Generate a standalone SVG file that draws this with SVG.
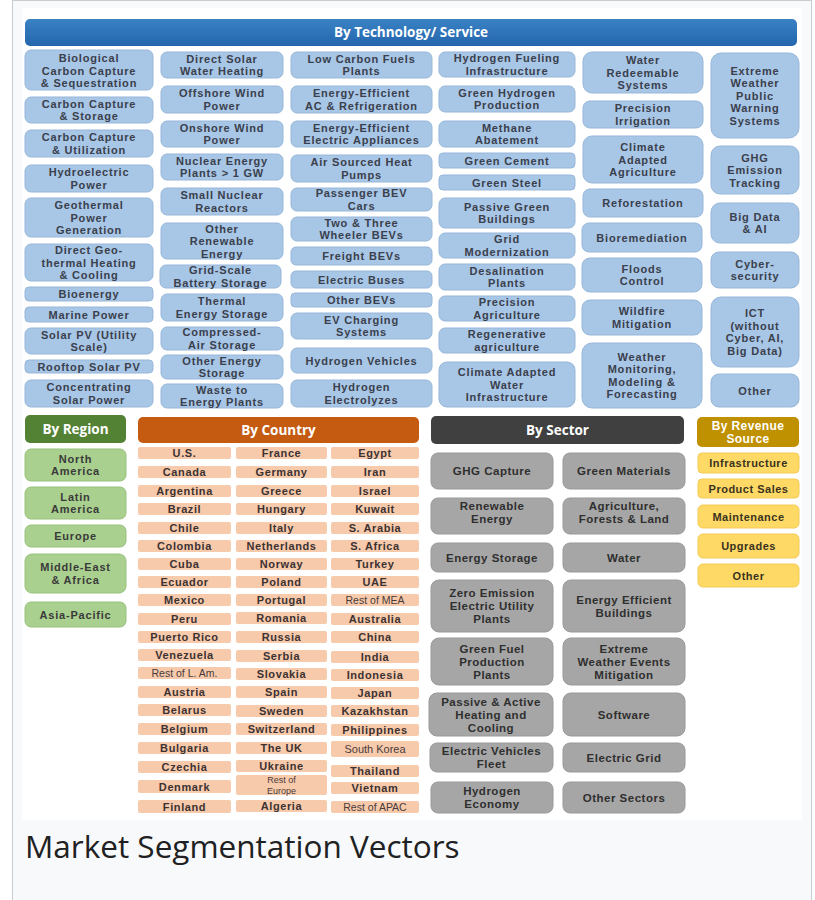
<svg xmlns="http://www.w3.org/2000/svg" width="815" height="900" viewBox="0 0 815 900">
<defs>
<linearGradient id="gBlue" x1="0" y1="0" x2="0" y2="1"><stop offset="0" stop-color="#3a82c4"/><stop offset="1" stop-color="#2465ad"/></linearGradient>
</defs>
<style>
text{font-family:"Liberation Sans",Arial,sans-serif;text-anchor:middle}
.tb{fill:#a8c6e6;stroke:#97b7da;stroke-width:1}
.tx{font-weight:700;font-size:11px;letter-spacing:0.8px;fill:#3a404c}
.hd{font-family:"Open Sans","DejaVu Sans",sans-serif;font-weight:700;font-size:13.5px;fill:#ffffff}
.rb{fill:#a9d08e;stroke:#98c27c;stroke-width:1}
.rx{font-weight:700;font-size:11px;letter-spacing:0.8px;fill:#3a3a3a}
.cb{fill:#f7caab}
.cx{font-weight:700;font-size:11px;letter-spacing:0.6px;fill:#3d3232}
.cl{font-weight:400;font-size:10.5px;fill:#4a3b3b}
.sb{fill:#a6a6a6;stroke:#999;stroke-width:1}
.sx{font-weight:700;font-size:11.5px;letter-spacing:0.5px;fill:#2f2f2f}
.vb{fill:#ffd966;stroke:#f2cb55;stroke-width:1}
.vx{font-weight:700;font-size:11px;letter-spacing:0.5px;fill:#3a3320}
</style>
<rect x="12.5" y="0.5" width="799" height="905" fill="#f8f9fa" stroke="#c8ccd1"/>
<rect x="22" y="8" width="780" height="812" fill="#ffffff"/>

<g id="hdr-tech"><rect x="25" y="19" width="772" height="27" rx="5" fill="url(#gBlue)"/><text class="hd" x="411" y="37">By Technology/ Service</text></g>

<!-- Column 1 -->
<g id="t-bio"><rect class="tb" x="25" y="50" width="128" height="40" rx="6"/><text class="tx"><tspan x="89" y="62">Biological</tspan><tspan x="89" y="74.5">Carbon Capture</tspan><tspan x="89" y="87">&amp; Sequestration</tspan></text></g>
<g id="t-ccs"><rect class="tb" x="25" y="97" width="128" height="26" rx="6"/><text class="tx"><tspan x="89" y="107.5">Carbon Capture</tspan><tspan x="89" y="120">&amp; Storage</tspan></text></g>
<g id="t-ccu"><rect class="tb" x="25" y="130" width="128" height="27" rx="6"/><text class="tx"><tspan x="89" y="141">Carbon Capture</tspan><tspan x="89" y="153.5">&amp; Utilization</tspan></text></g>
<g id="t-hydro"><rect class="tb" x="25" y="165" width="128" height="27" rx="6"/><text class="tx"><tspan x="89" y="176">Hydroelectric</tspan><tspan x="89" y="188.5">Power</tspan></text></g>
<g id="t-geo"><rect class="tb" x="25" y="198" width="128" height="39" rx="6"/><text class="tx"><tspan x="89" y="209">Geothermal</tspan><tspan x="89" y="221.5">Power</tspan><tspan x="89" y="234">Generation</tspan></text></g>
<g id="t-dgeo"><rect class="tb" x="25" y="244" width="128" height="37" rx="6"/><text class="tx"><tspan x="89" y="254">Direct Geo-</tspan><tspan x="89" y="266.5">thermal Heating</tspan><tspan x="89" y="279">&amp; Cooling</tspan></text></g>
<g id="t-bioen"><rect class="tb" x="25" y="287" width="128" height="14" rx="4"/><text class="tx" x="89" y="298">Bioenergy</text></g>
<g id="t-marine"><rect class="tb" x="25" y="307" width="128" height="15" rx="4"/><text class="tx" x="89" y="318.5">Marine Power</text></g>
<g id="t-pvu"><rect class="tb" x="25" y="328" width="128" height="26" rx="6"/><text class="tx"><tspan x="89" y="338.5">Solar PV (Utility</tspan><tspan x="89" y="351">Scale)</tspan></text></g>
<g id="t-roof"><rect class="tb" x="25" y="360" width="128" height="13" rx="4"/><text class="tx" x="89" y="370.5">Rooftop Solar PV</text></g>
<g id="t-csp"><rect class="tb" x="25" y="380" width="128" height="27" rx="6"/><text class="tx"><tspan x="89" y="391">Concentrating</tspan><tspan x="89" y="403.5">Solar Power</tspan></text></g>

<!-- Column 2 -->
<g id="t-dswh"><rect class="tb" x="161" y="52" width="122" height="26" rx="6"/><text class="tx"><tspan x="222" y="62.5">Direct Solar</tspan><tspan x="222" y="75">Water Heating</tspan></text></g>
<g id="t-offw"><rect class="tb" x="161" y="86" width="122" height="27" rx="6"/><text class="tx"><tspan x="222" y="97">Offshore Wind</tspan><tspan x="222" y="109.5">Power</tspan></text></g>
<g id="t-onw"><rect class="tb" x="161" y="121" width="122" height="26" rx="6"/><text class="tx"><tspan x="222" y="131.5">Onshore Wind</tspan><tspan x="222" y="144">Power</tspan></text></g>
<g id="t-nuc"><rect class="tb" x="161" y="154" width="122" height="26" rx="6"/><text class="tx"><tspan x="222" y="164.5">Nuclear Energy</tspan><tspan x="222" y="177">Plants &gt; 1 GW</tspan></text></g>
<g id="t-smr"><rect class="tb" x="161" y="188" width="122" height="27" rx="6"/><text class="tx"><tspan x="222" y="199">Small Nuclear</tspan><tspan x="222" y="211.5">Reactors</tspan></text></g>
<g id="t-oren"><rect class="tb" x="161" y="223" width="122" height="36" rx="6"/><text class="tx"><tspan x="222" y="232.5">Other</tspan><tspan x="222" y="245">Renewable</tspan><tspan x="222" y="257.5">Energy</tspan></text></g>
<g id="t-grid"><rect class="tb" x="160" y="265" width="121" height="23" rx="6"/><text class="tx"><tspan x="220.5" y="274">Grid-Scale</tspan><tspan x="220.5" y="286.5">Battery Storage</tspan></text></g>
<g id="t-therm"><rect class="tb" x="161" y="294" width="122" height="27" rx="6"/><text class="tx"><tspan x="222" y="305">Thermal</tspan><tspan x="222" y="317.5">Energy Storage</tspan></text></g>
<g id="t-caes"><rect class="tb" x="161" y="327" width="122" height="23" rx="6"/><text class="tx"><tspan x="222" y="336">Compressed-</tspan><tspan x="222" y="348.5">Air Storage</tspan></text></g>
<g id="t-oes"><rect class="tb" x="161" y="355" width="122" height="24" rx="6"/><text class="tx"><tspan x="222" y="364.5">Other Energy</tspan><tspan x="222" y="377">Storage</tspan></text></g>
<g id="t-wte"><rect class="tb" x="161" y="384" width="122" height="24" rx="6"/><text class="tx"><tspan x="222" y="393.5">Waste to</tspan><tspan x="222" y="406">Energy Plants</tspan></text></g>

<!-- Column 3 -->
<g id="t-lcf"><rect class="tb" x="291" y="52" width="141" height="26" rx="6"/><text class="tx"><tspan x="361.5" y="62.5">Low Carbon Fuels</tspan><tspan x="361.5" y="75">Plants</tspan></text></g>
<g id="t-eeac"><rect class="tb" x="291" y="86" width="141" height="27" rx="6"/><text class="tx"><tspan x="361.5" y="97">Energy-Efficient</tspan><tspan x="361.5" y="109.5">AC &amp; Refrigeration</tspan></text></g>
<g id="t-eeap"><rect class="tb" x="291" y="121" width="141" height="26" rx="6"/><text class="tx"><tspan x="361.5" y="131.5">Energy-Efficient</tspan><tspan x="361.5" y="144">Electric Appliances</tspan></text></g>
<g id="t-ashp"><rect class="tb" x="291" y="155" width="141" height="27" rx="6"/><text class="tx"><tspan x="361.5" y="166">Air Sourced Heat</tspan><tspan x="361.5" y="178.5">Pumps</tspan></text></g>
<g id="t-pbev"><rect class="tb" x="291" y="188" width="141" height="23" rx="6"/><text class="tx"><tspan x="361.5" y="197">Passenger BEV</tspan><tspan x="361.5" y="209.5">Cars</tspan></text></g>
<g id="t-23w"><rect class="tb" x="291" y="217" width="141" height="24" rx="6"/><text class="tx"><tspan x="361.5" y="226.5">Two &amp; Three</tspan><tspan x="361.5" y="239">Wheeler BEVs</tspan></text></g>
<g id="t-frbev"><rect class="tb" x="291" y="247" width="141" height="18" rx="5"/><text class="tx" x="361.5" y="260">Freight BEVs</text></g>
<g id="t-ebus"><rect class="tb" x="291" y="271" width="141" height="17" rx="5"/><text class="tx" x="361.5" y="283.5">Electric Buses</text></g>
<g id="t-obev"><rect class="tb" x="291" y="293" width="141" height="14" rx="4"/><text class="tx" x="361.5" y="304">Other BEVs</text></g>
<g id="t-evcs"><rect class="tb" x="291" y="313" width="141" height="26" rx="6"/><text class="tx"><tspan x="361.5" y="323.5">EV Charging</tspan><tspan x="361.5" y="336">Systems</tspan></text></g>
<g id="t-h2v"><rect class="tb" x="291" y="348" width="141" height="25" rx="6"/><text class="tx" x="361.5" y="364.5">Hydrogen Vehicles</text></g>
<g id="t-h2e"><rect class="tb" x="291" y="380" width="141" height="27" rx="6"/><text class="tx"><tspan x="361.5" y="391">Hydrogen</tspan><tspan x="361.5" y="403.5">Electrolyzes</tspan></text></g>

<!-- Column 4 -->
<g id="t-h2f"><rect class="tb" x="439" y="52" width="136" height="25" rx="6"/><text class="tx"><tspan x="507" y="62">Hydrogen Fueling</tspan><tspan x="507" y="74.5">Infrastructure</tspan></text></g>
<g id="t-gh2"><rect class="tb" x="439" y="86" width="136" height="26" rx="6"/><text class="tx"><tspan x="507" y="96.5">Green Hydrogen</tspan><tspan x="507" y="109">Production</tspan></text></g>
<g id="t-meth"><rect class="tb" x="439" y="121" width="136" height="26" rx="6"/><text class="tx"><tspan x="507" y="131.5">Methane</tspan><tspan x="507" y="144">Abatement</tspan></text></g>
<g id="t-gcem"><rect class="tb" x="439" y="153" width="136" height="15" rx="4"/><text class="tx" x="507" y="164.5">Green Cement</text></g>
<g id="t-gstl"><rect class="tb" x="439" y="175" width="136" height="15" rx="4"/><text class="tx" x="507" y="186.5">Green Steel</text></g>
<g id="t-pgb"><rect class="tb" x="439" y="198" width="136" height="30" rx="6"/><text class="tx"><tspan x="507" y="210.5">Passive Green</tspan><tspan x="507" y="223">Buildings</tspan></text></g>
<g id="t-gmod"><rect class="tb" x="439" y="233" width="136" height="25" rx="6"/><text class="tx"><tspan x="507" y="243">Grid</tspan><tspan x="507" y="255.5">Modernization</tspan></text></g>
<g id="t-desal"><rect class="tb" x="439" y="264" width="136" height="26" rx="6"/><text class="tx"><tspan x="507" y="274.5">Desalination</tspan><tspan x="507" y="287">Plants</tspan></text></g>
<g id="t-pag"><rect class="tb" x="439" y="296" width="136" height="25" rx="6"/><text class="tx"><tspan x="507" y="306">Precision</tspan><tspan x="507" y="318.5">Agriculture</tspan></text></g>
<g id="t-regen"><rect class="tb" x="439" y="328" width="136" height="25" rx="6"/><text class="tx"><tspan x="507" y="338">Regenerative</tspan><tspan x="507" y="350.5">agriculture</tspan></text></g>
<g id="t-cawi"><rect class="tb" x="439" y="362" width="136" height="45" rx="8"/><text class="tx"><tspan x="507" y="376">Climate Adapted</tspan><tspan x="507" y="388.5">Water</tspan><tspan x="507" y="401">Infrastructure</tspan></text></g>

<!-- Column 5 -->
<g id="t-wrs"><rect class="tb" x="583" y="52" width="120" height="41" rx="9"/><text class="tx"><tspan x="643" y="64">Water</tspan><tspan x="643" y="76.5">Redeemable</tspan><tspan x="643" y="89">Systems</tspan></text></g>
<g id="t-pirr"><rect class="tb" x="583" y="101" width="120" height="27" rx="7"/><text class="tx"><tspan x="643" y="112">Precision</tspan><tspan x="643" y="124.5">Irrigation</tspan></text></g>
<g id="t-caag"><rect class="tb" x="583" y="136" width="120" height="47" rx="9"/><text class="tx"><tspan x="643" y="151">Climate</tspan><tspan x="643" y="163.5">Adapted</tspan><tspan x="643" y="176">Agriculture</tspan></text></g>
<g id="t-refor"><rect class="tb" x="583" y="189" width="120" height="28" rx="7"/><text class="tx" x="643" y="207">Reforestation</text></g>
<g id="t-biorem"><rect class="tb" x="582" y="223" width="120" height="29" rx="7"/><text class="tx" x="642" y="241.5">Bioremediation</text></g>
<g id="t-flood"><rect class="tb" x="582" y="258" width="120" height="34" rx="8"/><text class="tx"><tspan x="642" y="272.5">Floods</tspan><tspan x="642" y="285">Control</tspan></text></g>
<g id="t-wild"><rect class="tb" x="582" y="300" width="120" height="35" rx="8"/><text class="tx"><tspan x="642" y="315">Wildfire</tspan><tspan x="642" y="327.5">Mitigation</tspan></text></g>
<g id="t-wmon"><rect class="tb" x="582" y="343" width="120" height="65" rx="10"/><text class="tx"><tspan x="642" y="360.5">Weather</tspan><tspan x="642" y="373">Monitoring,</tspan><tspan x="642" y="385.5">Modeling &amp;</tspan><tspan x="642" y="398">Forecasting</tspan></text></g>

<!-- Column 6 -->
<g id="t-ewpw"><rect class="tb" x="711" y="53" width="88" height="85" rx="10"/><text class="tx"><tspan x="755" y="74.5">Extreme</tspan><tspan x="755" y="87">Weather</tspan><tspan x="755" y="99.5">Public</tspan><tspan x="755" y="112">Warning</tspan><tspan x="755" y="124.5">Systems</tspan></text></g>
<g id="t-ghgt"><rect class="tb" x="711" y="146" width="88" height="48" rx="9"/><text class="tx"><tspan x="755" y="161.5">GHG</tspan><tspan x="755" y="174">Emission</tspan><tspan x="755" y="186.5">Tracking</tspan></text></g>
<g id="t-bdai"><rect class="tb" x="711" y="203" width="88" height="40" rx="9"/><text class="tx"><tspan x="755" y="220.5">Big Data</tspan><tspan x="755" y="233">&amp; AI</tspan></text></g>
<g id="t-cyber"><rect class="tb" x="711" y="252" width="88" height="36" rx="8"/><text class="tx"><tspan x="755" y="267.5">Cyber-</tspan><tspan x="755" y="280">security</tspan></text></g>
<g id="t-ict"><rect class="tb" x="711" y="297" width="88" height="70" rx="10"/><text class="tx"><tspan x="755" y="317">ICT</tspan><tspan x="755" y="329.5">(without</tspan><tspan x="755" y="342">Cyber, AI,</tspan><tspan x="755" y="354.5">Big Data)</tspan></text></g>
<g id="t-other"><rect class="tb" x="711" y="374" width="88" height="33" rx="8"/><text class="tx" x="755" y="394.5">Other</text></g>

<!-- By Region -->
<g id="hdr-region"><rect x="25" y="415" width="101" height="28" rx="5" fill="#548235"/><text class="hd" x="75.5" y="433.5">By Region</text></g>
<g id="r-na"><rect class="rb" x="25" y="449" width="101" height="32" rx="6"/><text class="rx"><tspan x="75.5" y="462.5">North</tspan><tspan x="75.5" y="475">America</tspan></text></g>
<g id="r-la"><rect class="rb" x="25" y="487" width="101" height="32" rx="6"/><text class="rx"><tspan x="75.5" y="500.5">Latin</tspan><tspan x="75.5" y="513">America</tspan></text></g>
<g id="r-eu"><rect class="rb" x="25" y="525" width="101" height="22" rx="6"/><text class="rx" x="75.5" y="540">Europe</text></g>
<g id="r-mea"><rect class="rb" x="25" y="554" width="101" height="39" rx="7"/><text class="rx"><tspan x="75.5" y="571">Middle-East</tspan><tspan x="75.5" y="583.5">&amp; Africa</tspan></text></g>
<g id="r-ap"><rect class="rb" x="25" y="602" width="101" height="25" rx="6"/><text class="rx" x="75.5" y="618.5">Asia-Pacific</text></g>

<!-- By Country -->
<g id="hdr-country"><rect x="138" y="417" width="281" height="26" rx="5" fill="#c55a11"/><text class="hd" x="278.5" y="434.5">By Country</text></g>
<g id="countries">
<g id="c-us"><rect class="cb" x="138" y="447" width="93" height="12" rx="2"/><text class="cx" x="184.5" y="457">U.S.</text></g>
<g id="c-ca"><rect class="cb" x="138" y="466" width="93" height="12" rx="2"/><text class="cx" x="184.5" y="476">Canada</text></g>
<g id="c-ar"><rect class="cb" x="138" y="485" width="93" height="12" rx="2"/><text class="cx" x="184.5" y="495">Argentina</text></g>
<g id="c-br"><rect class="cb" x="138" y="503" width="93" height="12" rx="2"/><text class="cx" x="184.5" y="513">Brazil</text></g>
<g id="c-cl"><rect class="cb" x="138" y="522" width="93" height="12" rx="2"/><text class="cx" x="184.5" y="532">Chile</text></g>
<g id="c-co"><rect class="cb" x="138" y="540" width="93" height="12" rx="2"/><text class="cx" x="184.5" y="550">Colombia</text></g>
<g id="c-cu"><rect class="cb" x="138" y="558" width="93" height="12" rx="2"/><text class="cx" x="184.5" y="568">Cuba</text></g>
<g id="c-ec"><rect class="cb" x="138" y="576" width="93" height="12" rx="2"/><text class="cx" x="184.5" y="586">Ecuador</text></g>
<g id="c-mx"><rect class="cb" x="138" y="594" width="93" height="12" rx="2"/><text class="cx" x="184.5" y="604">Mexico</text></g>
<g id="c-pe"><rect class="cb" x="138" y="613" width="93" height="12" rx="2"/><text class="cx" x="184.5" y="623">Peru</text></g>
<g id="c-pr"><rect class="cb" x="138" y="631" width="93" height="12" rx="2"/><text class="cx" x="184.5" y="641">Puerto Rico</text></g>
<g id="c-ve"><rect class="cb" x="138" y="649" width="93" height="12" rx="2"/><text class="cx" x="184.5" y="659">Venezuela</text></g>
<g id="c-rla"><rect class="cb" x="138" y="667" width="93" height="12" rx="2"/><text class="cl" x="184.5" y="676.8">Rest of L. Am.</text></g>
<g id="c-at"><rect class="cb" x="138" y="686" width="93" height="12" rx="2"/><text class="cx" x="184.5" y="696">Austria</text></g>
<g id="c-by"><rect class="cb" x="138" y="704" width="93" height="12" rx="2"/><text class="cx" x="184.5" y="714">Belarus</text></g>
<g id="c-be"><rect class="cb" x="138" y="723" width="93" height="12" rx="2"/><text class="cx" x="184.5" y="733">Belgium</text></g>
<g id="c-bg"><rect class="cb" x="138" y="742" width="93" height="12" rx="2"/><text class="cx" x="184.5" y="752">Bulgaria</text></g>
<g id="c-cz"><rect class="cb" x="138" y="761" width="93" height="12" rx="2"/><text class="cx" x="184.5" y="771">Czechia</text></g>
<g id="c-dk"><rect class="cb" x="138" y="780" width="93" height="13" rx="2"/><text class="cx" x="184.5" y="790.5">Denmark</text></g>
<g id="c-fi"><rect class="cb" x="138" y="800" width="93" height="13" rx="2"/><text class="cx" x="184.5" y="810.5">Finland</text></g>

<g id="c-fr"><rect class="cb" x="236" y="447" width="91" height="12" rx="2"/><text class="cx" x="281.5" y="457">France</text></g>
<g id="c-de"><rect class="cb" x="236" y="466" width="91" height="12" rx="2"/><text class="cx" x="281.5" y="476">Germany</text></g>
<g id="c-gr"><rect class="cb" x="236" y="485" width="91" height="12" rx="2"/><text class="cx" x="281.5" y="495">Greece</text></g>
<g id="c-hu"><rect class="cb" x="236" y="503" width="91" height="12" rx="2"/><text class="cx" x="281.5" y="513">Hungary</text></g>
<g id="c-it"><rect class="cb" x="236" y="522" width="91" height="12" rx="2"/><text class="cx" x="281.5" y="532">Italy</text></g>
<g id="c-nl"><rect class="cb" x="236" y="540" width="91" height="12" rx="2"/><text class="cx" x="281.5" y="550">Netherlands</text></g>
<g id="c-no"><rect class="cb" x="236" y="558" width="91" height="12" rx="2"/><text class="cx" x="281.5" y="568">Norway</text></g>
<g id="c-pl"><rect class="cb" x="236" y="576" width="91" height="12" rx="2"/><text class="cx" x="281.5" y="586">Poland</text></g>
<g id="c-pt"><rect class="cb" x="236" y="594" width="91" height="12" rx="2"/><text class="cx" x="281.5" y="604">Portugal</text></g>
<g id="c-ro"><rect class="cb" x="236" y="612" width="91" height="12" rx="2"/><text class="cx" x="281.5" y="622">Romania</text></g>
<g id="c-ru"><rect class="cb" x="236" y="631" width="91" height="12" rx="2"/><text class="cx" x="281.5" y="641">Russia</text></g>
<g id="c-rs"><rect class="cb" x="236" y="650" width="91" height="12" rx="2"/><text class="cx" x="281.5" y="660">Serbia</text></g>
<g id="c-sk"><rect class="cb" x="236" y="668" width="91" height="12" rx="2"/><text class="cx" x="281.5" y="678">Slovakia</text></g>
<g id="c-es"><rect class="cb" x="236" y="686" width="91" height="12" rx="2"/><text class="cx" x="281.5" y="696">Spain</text></g>
<g id="c-se"><rect class="cb" x="236" y="705" width="91" height="12" rx="2"/><text class="cx" x="281.5" y="715">Sweden</text></g>
<g id="c-ch"><rect class="cb" x="236" y="723" width="91" height="12" rx="2"/><text class="cx" x="281.5" y="733">Switzerland</text></g>
<g id="c-uk"><rect class="cb" x="236" y="742" width="91" height="12" rx="2"/><text class="cx" x="281.5" y="752">The UK</text></g>
<g id="c-ua"><rect class="cb" x="236" y="760" width="91" height="12" rx="2"/><text class="cx" x="281.5" y="770">Ukraine</text></g>
<g id="c-reu"><rect class="cb" x="236" y="775" width="91" height="20" rx="2"/><text class="cl" style="font-size:9px"><tspan x="281.5" y="783.3">Rest of</tspan><tspan x="281.5" y="793.5">Europe</tspan></text></g>
<g id="c-dz"><rect class="cb" x="236" y="800" width="91" height="12" rx="2"/><text class="cx" x="281.5" y="810">Algeria</text></g>

<g id="c-eg"><rect class="cb" x="331" y="447" width="88" height="12" rx="2"/><text class="cx" x="375" y="457">Egypt</text></g>
<g id="c-ir"><rect class="cb" x="331" y="466" width="88" height="12" rx="2"/><text class="cx" x="375" y="476">Iran</text></g>
<g id="c-il"><rect class="cb" x="331" y="485" width="88" height="12" rx="2"/><text class="cx" x="375" y="495">Israel</text></g>
<g id="c-kw"><rect class="cb" x="331" y="503" width="88" height="12" rx="2"/><text class="cx" x="375" y="513">Kuwait</text></g>
<g id="c-sa"><rect class="cb" x="331" y="522" width="88" height="12" rx="2"/><text class="cx" x="375" y="532">S. Arabia</text></g>
<g id="c-za"><rect class="cb" x="331" y="540" width="88" height="12" rx="2"/><text class="cx" x="375" y="550">S. Africa</text></g>
<g id="c-tr"><rect class="cb" x="331" y="558" width="88" height="12" rx="2"/><text class="cx" x="375" y="568">Turkey</text></g>
<g id="c-ae"><rect class="cb" x="331" y="576" width="88" height="12" rx="2"/><text class="cx" x="375" y="586">UAE</text></g>
<g id="c-rmea"><rect class="cb" x="331" y="594" width="88" height="12" rx="2"/><text class="cl" x="375" y="603.8">Rest of MEA</text></g>
<g id="c-au"><rect class="cb" x="331" y="613" width="88" height="12" rx="2"/><text class="cx" x="375" y="623">Australia</text></g>
<g id="c-cn"><rect class="cb" x="331" y="631" width="88" height="12" rx="2"/><text class="cx" x="375" y="641">China</text></g>
<g id="c-in"><rect class="cb" x="331" y="651" width="88" height="12" rx="2"/><text class="cx" x="375" y="661">India</text></g>
<g id="c-id"><rect class="cb" x="331" y="669" width="88" height="12" rx="2"/><text class="cx" x="375" y="679">Indonesia</text></g>
<g id="c-jp"><rect class="cb" x="331" y="687" width="88" height="12" rx="2"/><text class="cx" x="375" y="697">Japan</text></g>
<g id="c-kz"><rect class="cb" x="331" y="705" width="88" height="12" rx="2"/><text class="cx" x="375" y="715">Kazakhstan</text></g>
<g id="c-ph"><rect class="cb" x="331" y="724" width="88" height="12" rx="2"/><text class="cx" x="375" y="734">Philippines</text></g>
<g id="c-kr"><rect class="cb" x="331" y="741" width="88" height="16" rx="2"/><text class="cl" style="font-size:11px" x="375" y="753">South Korea</text></g>
<g id="c-th"><rect class="cb" x="331" y="765" width="88" height="12" rx="2"/><text class="cx" x="375" y="775">Thailand</text></g>
<g id="c-vn"><rect class="cb" x="331" y="782" width="88" height="12" rx="2"/><text class="cx" x="375" y="792">Vietnam</text></g>
<g id="c-rapac"><rect class="cb" x="331" y="801" width="88" height="12" rx="2"/><text class="cl" x="375" y="810.8">Rest of APAC</text></g>
</g>

<!-- By Sector -->
<g id="hdr-sector"><rect x="431" y="416" width="253" height="28" rx="5" fill="#404040"/><text class="hd" x="557.5" y="434.5">By Sector</text></g>
<g id="s-ghg"><rect class="sb" x="431" y="453" width="122" height="36" rx="7"/><text class="sx" x="492" y="475">GHG Capture</text></g>
<g id="s-gm"><rect class="sb" x="563" y="453" width="122" height="36" rx="7"/><text class="sx" x="624" y="475">Green Materials</text></g>
<g id="s-re"><rect class="sb" x="431" y="498" width="122" height="36" rx="7"/><text class="sx"><tspan x="492" y="509.5">Renewable</tspan><tspan x="492" y="522.5">Energy</tspan></text></g>
<g id="s-afl"><rect class="sb" x="563" y="498" width="122" height="36" rx="7"/><text class="sx"><tspan x="624" y="509.5">Agriculture,</tspan><tspan x="624" y="522.5">Forests &amp; Land</tspan></text></g>
<g id="s-es"><rect class="sb" x="431" y="543" width="122" height="29" rx="7"/><text class="sx" x="492" y="561.5">Energy Storage</text></g>
<g id="s-water"><rect class="sb" x="563" y="543" width="122" height="29" rx="7"/><text class="sx" x="624" y="561.5">Water</text></g>
<g id="s-zeup"><rect class="sb" x="431" y="580" width="122" height="52" rx="8"/><text class="sx"><tspan x="492" y="597">Zero Emission</tspan><tspan x="492" y="610">Electric Utility</tspan><tspan x="492" y="623">Plants</tspan></text></g>
<g id="s-eeb"><rect class="sb" x="563" y="580" width="122" height="52" rx="8"/><text class="sx"><tspan x="624" y="603.5">Energy Efficient</tspan><tspan x="624" y="616.5">Buildings</tspan></text></g>
<g id="s-gfpp"><rect class="sb" x="431" y="638" width="122" height="47" rx="8"/><text class="sx"><tspan x="492" y="652.5">Green Fuel</tspan><tspan x="492" y="665.5">Production</tspan><tspan x="492" y="678.5">Plants</tspan></text></g>
<g id="s-ewem"><rect class="sb" x="563" y="638" width="122" height="47" rx="8"/><text class="sx"><tspan x="624" y="652.5">Extreme</tspan><tspan x="624" y="665.5">Weather Events</tspan><tspan x="624" y="678.5">Mitigation</tspan></text></g>
<g id="s-pahc"><rect class="sb" x="429" y="693" width="124" height="43" rx="8"/><text class="sx"><tspan x="491" y="705.5">Passive &amp; Active</tspan><tspan x="491" y="718.5">Heating and</tspan><tspan x="491" y="731.5">Cooling</tspan></text></g>
<g id="s-sw"><rect class="sb" x="563" y="693" width="122" height="43" rx="8"/><text class="sx" x="624" y="718.5">Software</text></g>
<g id="s-evf"><rect class="sb" x="430" y="743" width="123" height="29" rx="7"/><text class="sx"><tspan x="491.5" y="755">Electric Vehicles</tspan><tspan x="491.5" y="768">Fleet</tspan></text></g>
<g id="s-eg"><rect class="sb" x="563" y="743" width="122" height="29" rx="7"/><text class="sx" x="624" y="761.5">Electric Grid</text></g>
<g id="s-h2"><rect class="sb" x="431" y="782" width="122" height="31" rx="7"/><text class="sx"><tspan x="492" y="795">Hydrogen</tspan><tspan x="492" y="808">Economy</tspan></text></g>
<g id="s-other"><rect class="sb" x="563" y="782" width="122" height="31" rx="7"/><text class="sx" x="624" y="801.5">Other Sectors</text></g>

<!-- By Revenue Source -->
<g id="hdr-revenue"><rect x="697" y="417" width="102" height="30" rx="5" fill="#bf9000"/><text style="font-weight:700;font-size:12px;letter-spacing:0.4px;fill:#ffffff"><tspan x="748" y="429.5">By Revenue</tspan><tspan x="748" y="443">Source</tspan></text></g>
<g id="v-inf"><rect class="vb" x="698" y="453" width="101" height="20" rx="4"/><text class="vx" x="748.5" y="467">Infrastructure</text></g>
<g id="v-ps"><rect class="vb" x="698" y="479" width="101" height="19" rx="4"/><text class="vx" x="748.5" y="492.5">Product Sales</text></g>
<g id="v-mnt"><rect class="vb" x="698" y="505" width="101" height="23" rx="5"/><text class="vx" x="748.5" y="520.5">Maintenance</text></g>
<g id="v-upg"><rect class="vb" x="698" y="534" width="101" height="24" rx="5"/><text class="vx" x="748.5" y="550">Upgrades</text></g>
<g id="v-oth"><rect class="vb" x="698" y="564" width="101" height="23" rx="5"/><text class="vx" x="748.5" y="579.5">Other</text></g>

<g id="connectors"></g>

<text x="25" y="858" style="text-anchor:start;font-family:'Open Sans','DejaVu Sans',sans-serif;font-size:31.5px;fill:#202122">Market Segmentation Vectors</text>
</svg>
